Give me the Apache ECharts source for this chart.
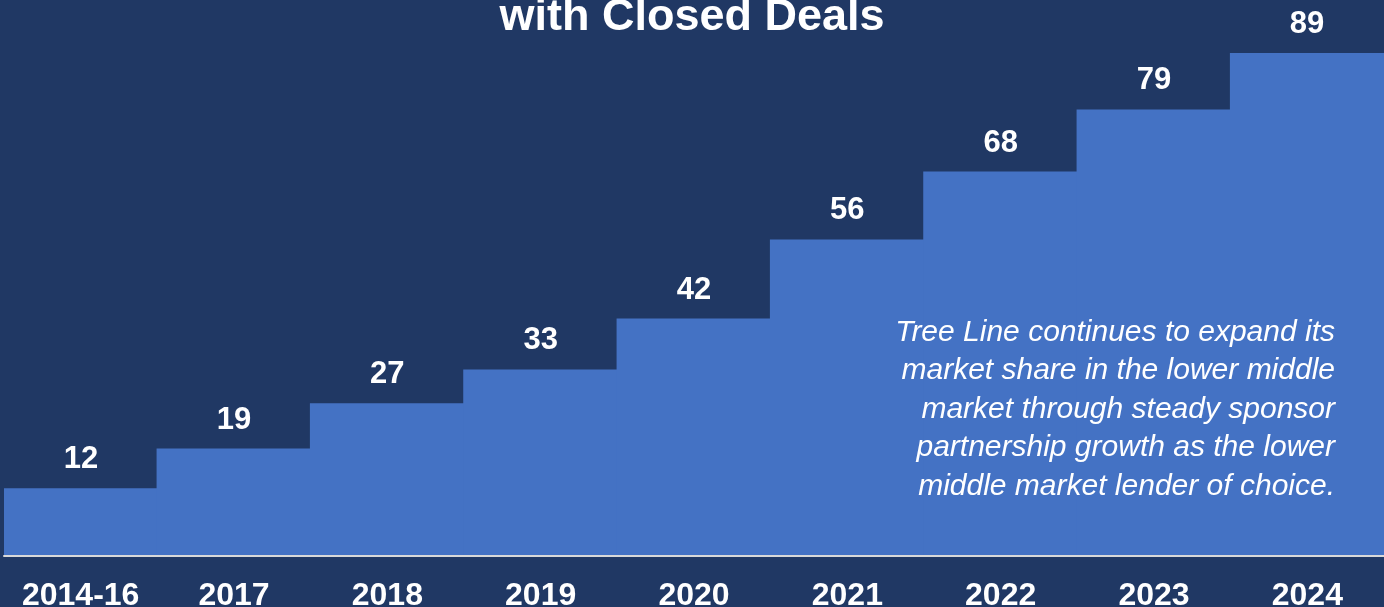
<!DOCTYPE html>
<html>
<head>
<meta charset="utf-8">
<title>Sponsors with Closed Deals</title>
<script src="https://cdn.jsdelivr.net/npm/echarts@6/dist/echarts.min.js"></script>
<style>
  html, body { margin: 0; padding: 0; background: #203864; }
  #chart { width: 1384px; height: 607px; }
</style>
</head>
<body>
<div id="chart"></div>
<script>
// Number of sponsors with closed deals, by year
const years = ['2014-16', '2017', '2018', '2019', '2020', '2021', '2022', '2023', '2024'];
const sponsors = [12, 19, 27, 33, 42, 56, 68, 79, 89];

const titleText = 'with Closed Deals';
const noteLines = [
  'Tree Line continues to expand its',
  'market share in the lower middle',
  'market through steady sponsor',
  'partnership growth as the lower',
  'middle market lender of choice.'
];

const FONT = '"Liberation Sans", Arial, sans-serif';
const BAR = '#4472c4';

const chart = echarts.init(document.getElementById('chart'), null, { renderer: 'canvas' });

chart.setOption({
  backgroundColor: '#203864',
  animation: false,
  grid: {
    left: 4, right: 0, top: 2, bottom: 51,
    containLabel: false,
    outerBoundsMode: 'none'
  },
  xAxis: {
    type: 'category',
    data: years,
    z: 5,
    axisLine: { show: true, lineStyle: { color: '#d9d9d9', width: 2 } },
    axisTick: { show: false },
    axisLabel: {
      color: '#ffffff',
      fontFamily: FONT,
      fontWeight: 'bold',
      fontSize: 32,
      lineHeight: 32,
      margin: 24,
      interval: 0
    }
  },
  yAxis: {
    type: 'value',
    min: 0,
    max: 98,
    show: false,
    splitLine: { show: false }
  },
  series: [{
    type: 'bar',
    data: sponsors,
    // slight overlap so neighbouring steps merge without seams
    barWidth: '101%',
    itemStyle: { color: BAR },
    label: {
      show: true,
      position: 'top',
      distance: 13,
      color: '#ffffff',
      fontFamily: FONT,
      fontWeight: 'bold',
      fontSize: 31,
      lineHeight: 31
    }
  }],
  graphic: [
    {
      type: 'text',
      left: 'center',
      top: -5,
      z: 100,
      style: {
        text: titleText,
        fill: '#ffffff',
        font: 'bold 45px ' + FONT
      }
    },
    {
      type: 'text',
      x: 1335,
      y: 313,
      z: 100,
      style: {
        text: noteLines.join('\n'),
        fill: '#ffffff',
        align: 'right',
        verticalAlign: 'top',
        lineHeight: 38.5,
        font: 'italic 30px ' + FONT
      }
    }
  ]
});
</script>
</body>
</html>
